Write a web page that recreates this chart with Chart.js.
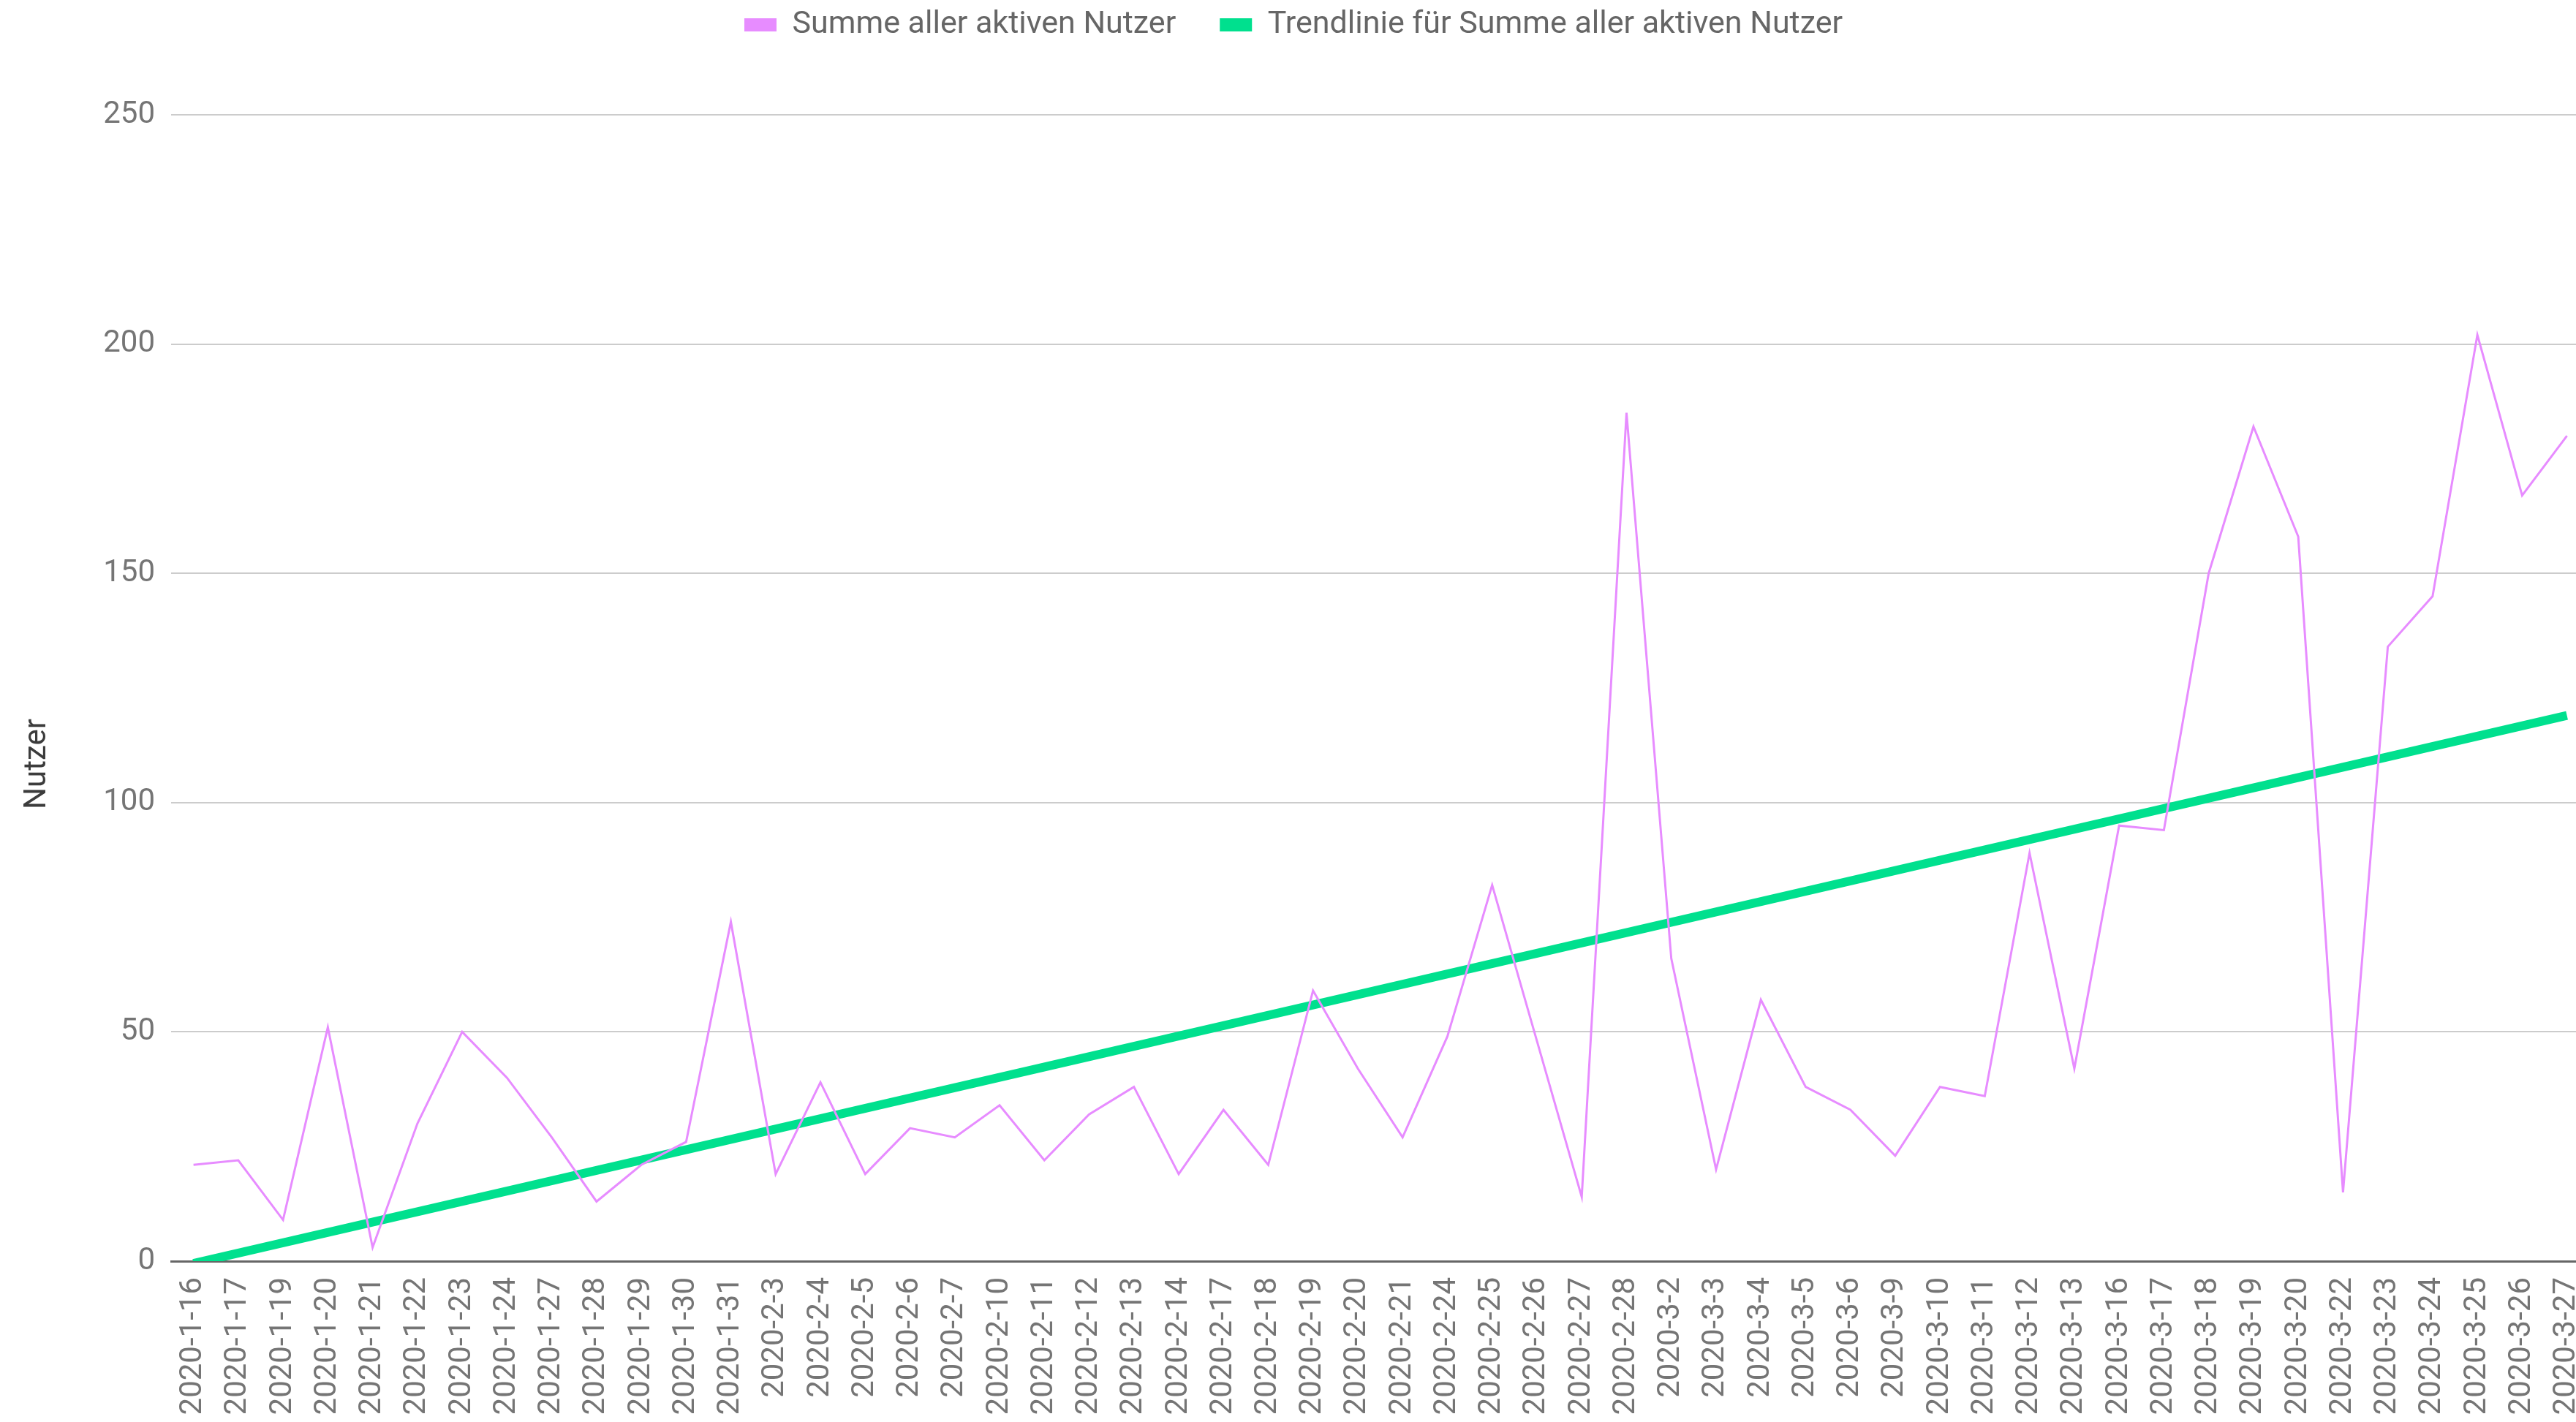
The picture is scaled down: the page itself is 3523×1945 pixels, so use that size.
<!DOCTYPE html>
<html>
<head>
<meta charset="utf-8">
<script src="https://cdn.jsdelivr.net/npm/chart.js@4"></script>
<style>
  html, body { margin: 0; padding: 0; background: #fff; overflow: hidden; }
  #graph { display: block; }
</style>
</head>
<body>
<canvas id="graph" width="3583" height="1945"></canvas>
<script>
// data
const days = ['2020-1-16','2020-1-17','2020-1-19','2020-1-20','2020-1-21','2020-1-22','2020-1-23','2020-1-24','2020-1-27','2020-1-28','2020-1-29','2020-1-30','2020-1-31',
  '2020-2-3','2020-2-4','2020-2-5','2020-2-6','2020-2-7','2020-2-10','2020-2-11','2020-2-12','2020-2-13','2020-2-14','2020-2-17','2020-2-18','2020-2-19','2020-2-20','2020-2-21','2020-2-24','2020-2-25','2020-2-26','2020-2-27','2020-2-28',
  '2020-3-2','2020-3-3','2020-3-4','2020-3-5','2020-3-6','2020-3-9','2020-3-10','2020-3-11','2020-3-12','2020-3-13','2020-3-16','2020-3-17','2020-3-18','2020-3-19','2020-3-20','2020-3-22','2020-3-23','2020-3-24','2020-3-25','2020-3-26','2020-3-27'];
const activeUsers = [21,22,9,51,3,30,50,40,27,13,21,26,74,
  19,39,19,29,27,34,22,32,38,19,33,21,59,42,27,49,82,48,14,185,
  66,20,57,38,33,23,38,36,89,42,95,94,150,182,158,15,134,145,202,167,180];
const trendFirst = -0.5; // trend line value at first day
const trendLast = 119;   // trend line value at last day
const yTicks = [0, 50, 100, 150, 200, 250];
const yTitle = 'Nutzer';

// trend line: only the two ends, the gap is bridged straight
const trend = days.map((d, i) => i === 0 ? trendFirst : (i === days.length - 1 ? trendLast : null));

const purple = '#e78cff';
const green = '#00e08e';

const legendPlace = { // push the plot down below the legend, keep legend near the top
  id: 'legendPlace',
  beforeInit(chart) {
    const fit = chart.legend.fit;
    chart.legend.fit = function() {
      fit.bind(chart.legend)();
      this.height = 157;
    };
  },
  afterLayout(chart) {
    chart.legend.top = -47.5;
    chart.legend.left = -45;
  }
};

const axisTitle = { // y title centred lower than the plot, like the reference
  id: 'axisTitle',
  afterDraw(chart) {
    const ctx = chart.ctx;
    ctx.save();
    ctx.translate(51, 1045);
    ctx.rotate(-Math.PI / 2);
    ctx.font = '42px Roboto';
    ctx.fillStyle = '#3c3c3c';
    ctx.textAlign = 'center';
    ctx.textBaseline = 'middle';
    ctx.fillText(yTitle, 0, 0);
    ctx.restore();
  }
};

new Chart('graph', {
  type: 'line',
  data: {
    labels: days,
    datasets: [{
      label: 'Summe aller aktiven Nutzer',
      data: activeUsers,
      borderColor: purple,
      backgroundColor: purple,
      borderWidth: 3,
      pointRadius: 0,
      tension: 0
    }, {
      label: 'Trendlinie für Summe aller aktiven Nutzer',
      data: trend,
      spanGaps: true,
      borderColor: green,
      backgroundColor: green,
      borderWidth: 12,
      pointRadius: 0,
      tension: 0
    }]
  },
  options: {
    responsive: false,
    animation: false,
    layout: { padding: 0 },
    plugins: {
      legend: {
        position: 'top',
        labels: {
          font: { family: 'Roboto', size: 43 },
          color: '#666',
          boxWidth: 44,
          boxHeight: 18,
          padding: 60,
          generateLabels(chart) {
            const items = Chart.defaults.plugins.legend.labels.generateLabels(chart);
            items.forEach(it => { it.lineWidth = 0; it.fillStyle = it.strokeStyle; });
            return items;
          }
        }
      },
      tooltip: { enabled: false }
    },
    scales: {
      x: {
        offset: true,
        grid: { display: false, drawTicks: false },
        border: { display: true, color: '#666', width: 3 },
        ticks: {
          autoSkip: false,
          minRotation: 90,
          maxRotation: 90,
          padding: 22,
          color: '#757575',
          font: { family: 'Roboto', size: 42 }
        },
        afterFit(scale) { scale.height = 220; }
      },
      y: {
        min: 0,
        max: 250,
        afterBuildTicks(scale) { scale.ticks = yTicks.map(v => ({ value: v })); },
        grid: {
          drawTicks: false,
          color: '#cccccc',
          lineWidth: 2
        },
        border: { display: false },
        ticks: {
          padding: 22,
          color: '#757575',
          font: { family: 'Roboto', size: 42 }
        },
        afterFit(scale) { scale.width = 234; }
      }
    }
  },
  plugins: [legendPlace, axisTitle]
});
</script>
</body>
</html>
